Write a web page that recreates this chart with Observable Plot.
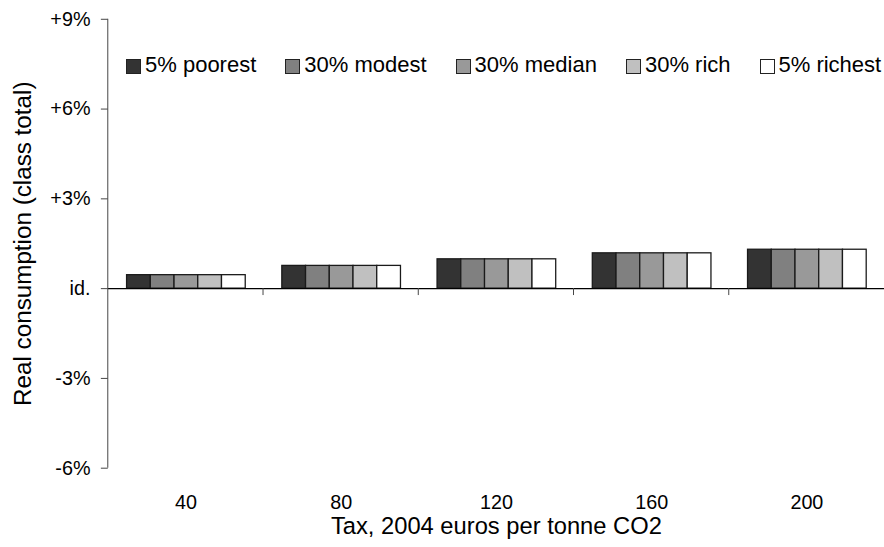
<!DOCTYPE html>
<html>
<head>
<meta charset="utf-8">
<script src="https://cdn.jsdelivr.net/npm/d3@7"></script>
<script src="https://cdn.jsdelivr.net/npm/@observablehq/plot@0.6"></script>
<style>
  html, body { margin: 0; padding: 0; background: #fff; overflow: hidden; }
  #wrap { position: relative; width: 884px; height: 547px; overflow: hidden;
          font-family: "Liberation Sans", Arial, sans-serif; }
  #legend { position: absolute; left: 126px; top: 54px; display: flex; gap: 29px;
            font-size: 22px; line-height: 22px; color: #000; }
  .item { display: flex; align-items: flex-start; white-space: nowrap; }
  .sw { width: 13px; height: 13px; border: 1px solid #222; margin-top: 5px; margin-right: 4px; flex: none; }
  g[aria-label="y-axis label"], g[aria-label="y-axis label"] text { font-size: 24.5px; }
  g[aria-label="fx-axis label"], g[aria-label="fx-axis label"] text { font-size: 24px; }
</style>
</head>
<body>
<div id="wrap"><div id="chart"></div><div id="legend"></div></div>
<script>
// ---- data ----
const taxes = [40, 80, 120, 160, 200];
const classes = ["5% poorest", "30% modest", "30% median", "30% rich", "5% richest"];
const poorest = [0.45, 0.76, 0.98, 1.18, 1.30];
const modest  = [0.45, 0.76, 0.98, 1.18, 1.30];
const median  = [0.45, 0.76, 0.98, 1.18, 1.30];
const rich    = [0.45, 0.76, 0.98, 1.18, 1.30];
const richest = [0.45, 0.76, 0.98, 1.18, 1.30];
const colors = ["#333333", "#808080", "#999999", "#c0c0c0", "#ffffff"];
const yTicks = [-6, -3, 0, 3, 6, 9];
const yTickLabels = ["-6%", "-3%", "id.", "+3%", "+6%", "+9%"];

const series = [poorest, modest, median, rich, richest];
const rows = [];
taxes.forEach((t, i) => classes.forEach((c, j) => rows.push({tax: t, cls: c, value: series[j][i]})));

const font = "Liberation Sans, Arial, sans-serif";
const chart = Plot.plot({
  width: 894, height: 547,
  marginLeft: 108, marginRight: 0, marginTop: 19, marginBottom: 74,
  style: {fontFamily: font, background: "white", color: "#000", overflow: "visible"},
  fx: {domain: taxes, padding: 0, label: null},
  x: {domain: classes, paddingInner: 0, paddingOuter: 0.73, axis: null},
  y: {domain: [-6, 9], axis: null},
  color: {domain: classes, range: colors},
  marks: [
    Plot.barY(rows, {fx: "tax", x: "cls", y: "value", fill: "cls", stroke: "#1a1a1a", strokeWidth: 1.3}),
    Plot.ruleY([0], {stroke: "#000", strokeWidth: 1.5}),
    Plot.axisY({
      ticks: yTicks,
      tickFormat: d => yTickLabels[yTicks.indexOf(d)],
      tickSize: 7, tickPadding: 11, fontSize: 20, stroke: "#444",
      label: "Real consumption (class total)", labelArrow: "none",
      labelAnchor: "center", labelOffset: 96
    }),
    Plot.axisFx({
      anchor: "bottom",
      tickSize: 0, tickPadding: 27, fontSize: 20,
      label: "Tax, 2004 euros per tonne CO2", labelArrow: "none",
      labelAnchor: "center", labelOffset: 67
    })
  ]
});
document.getElementById("chart").appendChild(chart);

// axis line and group-boundary ticks, positioned from the plot's own scales
const fxs = chart.scale("fx"), ys = chart.scale("y");
const svg = d3.select(chart);
const y0 = ys.apply(0);
svg.append("line")
  .attr("x1", fxs.apply(taxes[0])).attr("x2", fxs.apply(taxes[0]))
  .attr("y1", ys.apply(yTicks[yTicks.length - 1])).attr("y2", ys.apply(yTicks[0]))
  .attr("stroke", "#444").attr("stroke-width", 1);
taxes.slice(1).forEach(t => {
  const xx = fxs.apply(t);
  svg.append("line").attr("x1", xx).attr("x2", xx).attr("y1", y0).attr("y2", y0 + 7)
    .attr("stroke", "#444").attr("stroke-width", 1);
});

// legend
const leg = d3.select("#legend");
classes.forEach((c, j) => {
  const it = leg.append("div").attr("class", "item");
  it.append("div").attr("class", "sw").style("background", colors[j]);
  it.append("span").text(c);
});
</script>
</body>
</html>
